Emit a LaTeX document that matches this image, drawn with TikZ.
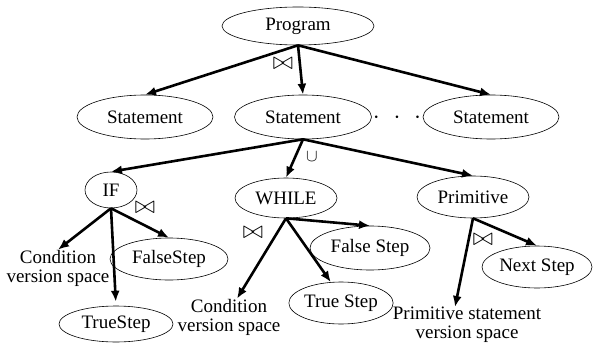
\documentclass[tikz,border=0pt]{standalone}
\usepackage{fontspec}
\setmainfont{Liberation Serif}
\usetikzlibrary{shapes.geometric,arrows.meta}
\tikzset{
  oval/.style={ellipse,draw,line width=0.6pt,inner sep=0pt,font=\fontsize{19}{21}\selectfont},
  lbl/.style={align=center,inner sep=0pt,font=\fontsize{19}{19}\selectfont},
  arr/.style={line width=2.6pt,-{Latex[length=11pt,width=9pt]}},
  bow/.style={inner sep=0pt,font=\fontsize{24}{24}\selectfont},
  uni/.style={inner sep=0pt,font=\fontsize{18}{18}\selectfont}
}
\begin{document}
\begin{tikzpicture}[x=1pt,y=-1pt]
\useasboundingbox (0,0) rectangle (593,342);
% level 0
\node[oval,minimum width=152pt,minimum height=38pt] (prog) at (298,26) {Program};
% level 1
\node[oval,minimum width=136pt,minimum height=44pt] (s1) at (145,117) {Statement};
\node[oval,minimum width=137pt,minimum height=44pt] (s2) at (303,117) {Statement};
\node[oval,minimum width=136pt,minimum height=44pt] (s3) at (491,117) {Statement};
\node[inner sep=0pt,font=\fontsize{26}{26}\selectfont] (dots) at (397,118) {$\cdot\hskip8.3pt\cdot\hskip8.3pt\cdot$};
% level 2
\node[oval,minimum width=52pt,minimum height=36pt] (if) at (111,190) {IF};
\node[oval,minimum width=102pt,minimum height=40pt] (while) at (286,198) {WHILE};
\node[oval,minimum width=112pt,minimum height=42pt] (prim) at (473,197) {Primitive};
% level 3
\node[lbl] (cond1) at (58,268) {Condition\\version space};
\node[oval,minimum width=118pt,minimum height=42pt] (fs1) at (169,259) {FalseStep};
\node[oval,minimum width=114pt,minimum height=36pt] (ts1) at (116,324) {TrueStep};
\node[lbl] (cond2) at (229,317) {Condition\\version space};
\node[oval,minimum width=120pt,minimum height=44pt] (fs2) at (370,248) {False Step};
\node[oval,minimum width=102pt,minimum height=42pt] (ts2) at (341,303) {True Step};
\node[oval,minimum width=110pt,minimum height=42pt] (ns) at (537,267) {Next Step};
\node[lbl] (primtxt) at (467,325) {Primitive statement\\version space};
% operator labels
\node[bow] (b1) at (283,64) {$\bowtie$};
\node[uni] (u1) at (312,157) {$\cup$};
\node[bow] (b2) at (145,208) {$\bowtie$};
\node[bow] (b3) at (253,233) {$\bowtie$};
\node[bow] (b4) at (483,240) {$\bowtie$};
% connectors
\draw[arr] (prog.south) -- (s1.north);
\draw[arr] (prog.south) -- (s2.north);
\draw[arr] (prog.south) -- (s3.north);
\draw[arr] (s2.south) -- (if.north);
\draw[arr] (s2.south) -- (while.north);
\draw[arr] (s2.south) -- (prim.north);
\draw[arr] (if.south) -- (cond1.north);
\draw[arr,shorten >=4pt] (if.south) -- (ts1.north);
\draw[arr] (if.south) -- (fs1.north);
\draw[arr] (while.south) -- ([xshift=8pt]cond2.north);
\draw[arr] (while.south) -- (ts2.116);
\draw[arr] (while.south) -- (fs2.north);
\draw[arr] (prim.south) -- ([xshift=-12pt]primtxt.north);
\draw[arr] (prim.south) -- (ns.north);
\end{tikzpicture}
\end{document}
